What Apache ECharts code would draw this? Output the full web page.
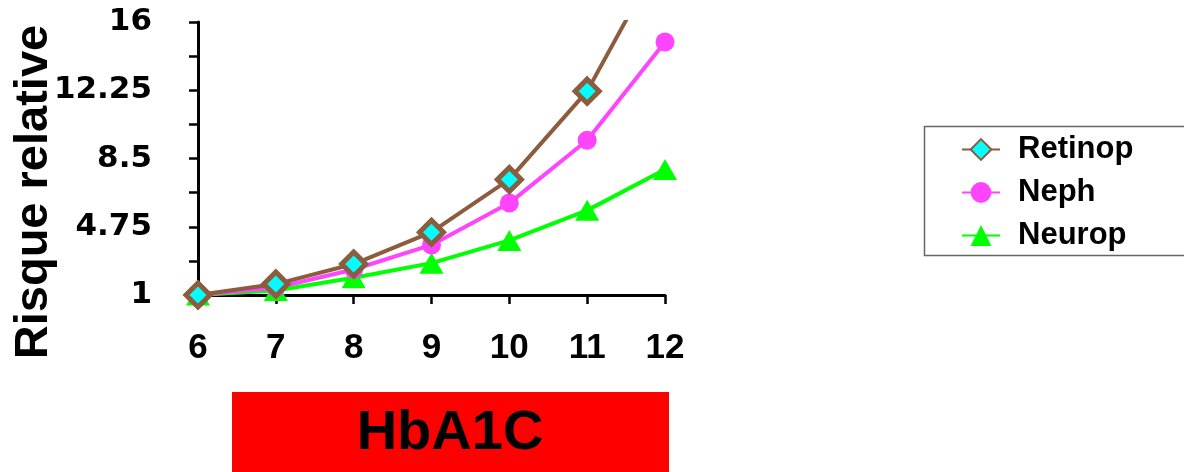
<!DOCTYPE html>
<html>
<head>
<meta charset="utf-8">
<script src="https://cdn.jsdelivr.net/npm/echarts@6/dist/echarts.min.js"></script>
<style>
html,body{margin:0;padding:0;background:#fff;}
#chart{width:1184px;height:472px;}
</style>
</head>
<body>
<div id="chart"></div>
<script>
const categories = ['6', '7', '8', '9', '10', '11', '12'];
const retinop = [1, 1.6, 2.7, 4.45, 7.35, 12.2, 20];
const neph = [1, 1.4, 2.4, 3.75, 6.05, 9.5, 14.9];
const neurop = [1, 1.25, 1.95, 2.75, 4.0, 5.65, 7.9];
const yMin = 1, yMax = 16, yLabelStep = 3.75;

const chart = echarts.init(document.getElementById('chart'));
const brown = '#8c5c3e';
chart.setOption({
  animation: false,
  backgroundColor: '#fff',
  grid: { left: 198, right: 519, top: 22, bottom: 177, containLabel: false },
  legend: {
    left: 956, top: 129, orient: 'vertical',
    itemWidth: 38, itemHeight: 26, itemGap: 12,
    textStyle: { fontFamily: 'Liberation Sans, Arial, sans-serif', fontWeight: 'bold', fontSize: 31, color: '#000', padding: [0, 0, 0, 13] },
    data: ['Retinop', 'Neph', 'Neurop']
  },
  xAxis: {
    type: 'category', data: categories, boundaryGap: false,
    axisLine: { lineStyle: { color: '#000', width: 3 } },
    axisTick: { show: true, alignWithLabel: true, length: 9, lineStyle: { color: '#000', width: 2.5 } },
    axisLabel: { margin: 36, color: '#000', fontFamily: 'Liberation Sans, Arial, sans-serif', fontWeight: 'bold', fontSize: 35 },
    splitLine: { show: false }
  },
  yAxis: {
    type: 'value', min: yMin, max: yMax, interval: yLabelStep / 2,
    axisLine: { show: true, lineStyle: { color: '#000', width: 3 } },
    axisTick: { show: true, length: 9, lineStyle: { color: '#000', width: 2.5 } },
    axisLabel: {
      margin: 46, color: '#000', fontFamily: 'DejaVu Sans, sans-serif', fontWeight: 'bold', fontSize: 31,
      padding: [3, 0, 0, 0],
      formatter: function (v) { const k = (v - yMin) / yLabelStep; return Math.abs(k - Math.round(k)) < 1e-6 ? String(v) : ''; }
    },
    splitLine: { show: false }
  },
  series: [
    {
      name: 'Retinop', type: 'line', data: retinop, z: 5, clip: true,
      symbol: 'diamond', symbolSize: 24,
      lineStyle: { color: brown, width: 4 },
      itemStyle: { color: '#00ffff', borderColor: brown, borderWidth: 5 }
    },
    {
      name: 'Neph', type: 'line', data: neph, z: 4, clip: true,
      symbol: 'circle', symbolSize: 19,
      lineStyle: { color: '#ff44ff', width: 4 },
      itemStyle: { color: '#ff44ff' }
    },
    {
      name: 'Neurop', type: 'line', data: neurop, z: 3, clip: true,
      symbol: 'triangle', symbolSize: [24, 21],
      lineStyle: { color: '#00ff00', width: 4 },
      itemStyle: { color: '#00ff00' }
    }
  ],
  graphic: [
    { type: 'rect', left: 922, top: 124, shape: { width: 300, height: 129 }, style: { fill: 'none', stroke: '#666', lineWidth: 1.5 } },
    { type: 'text', x: 34, y: 192, rotation: Math.PI / 2, style: { text: 'Risque relative', fill: '#000', font: 'bold 47px "Liberation Sans", Arial, sans-serif', textAlign: 'center', textVerticalAlign: 'middle' } },
    { type: 'rect', left: 232, top: 392, shape: { width: 437, height: 90 }, style: { fill: '#ff0000' } },
    { type: 'text', x: 450, y: 434, style: { text: 'HbA1C', fill: '#000', font: 'bold 56px "Liberation Sans", Arial, sans-serif', textAlign: 'center', textVerticalAlign: 'middle' } }
  ]
});
</script>
</body>
</html>
